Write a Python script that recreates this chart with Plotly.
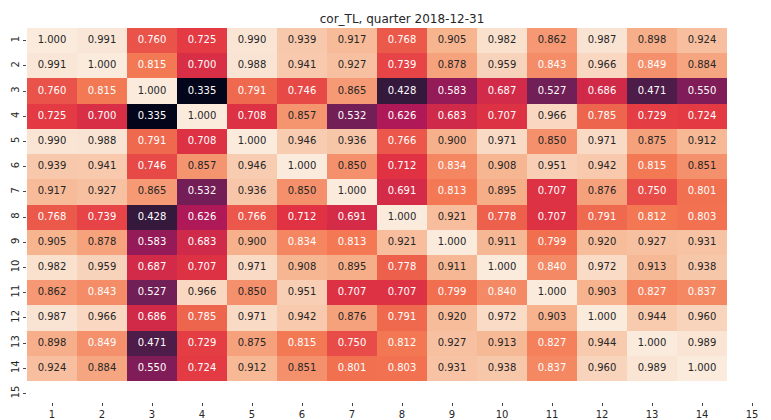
import plotly.graph_objects as go

labels = list(range(1, 15))
tick_vals = list(range(1, 16))
tick_text = [str(i) for i in tick_vals]

corr = [
    [1.000, 0.991, 0.760, 0.725, 0.990, 0.939, 0.917, 0.768, 0.905, 0.982, 0.862, 0.987, 0.898, 0.924],
    [0.991, 1.000, 0.815, 0.700, 0.988, 0.941, 0.927, 0.739, 0.878, 0.959, 0.843, 0.966, 0.849, 0.884],
    [0.760, 0.815, 1.000, 0.335, 0.791, 0.746, 0.865, 0.428, 0.583, 0.687, 0.527, 0.686, 0.471, 0.550],
    [0.725, 0.700, 0.335, 1.000, 0.708, 0.857, 0.532, 0.626, 0.683, 0.707, 0.966, 0.785, 0.729, 0.724],
    [0.990, 0.988, 0.791, 0.708, 1.000, 0.946, 0.936, 0.766, 0.900, 0.971, 0.850, 0.971, 0.875, 0.912],
    [0.939, 0.941, 0.746, 0.857, 0.946, 1.000, 0.850, 0.712, 0.834, 0.908, 0.951, 0.942, 0.815, 0.851],
    [0.917, 0.927, 0.865, 0.532, 0.936, 0.850, 1.000, 0.691, 0.813, 0.895, 0.707, 0.876, 0.750, 0.801],
    [0.768, 0.739, 0.428, 0.626, 0.766, 0.712, 0.691, 1.000, 0.921, 0.778, 0.707, 0.791, 0.812, 0.803],
    [0.905, 0.878, 0.583, 0.683, 0.900, 0.834, 0.813, 0.921, 1.000, 0.911, 0.799, 0.920, 0.927, 0.931],
    [0.982, 0.959, 0.687, 0.707, 0.971, 0.908, 0.895, 0.778, 0.911, 1.000, 0.840, 0.972, 0.913, 0.938],
    [0.862, 0.843, 0.527, 0.966, 0.850, 0.951, 0.707, 0.707, 0.799, 0.840, 1.000, 0.903, 0.827, 0.837],
    [0.987, 0.966, 0.686, 0.785, 0.971, 0.942, 0.876, 0.791, 0.920, 0.972, 0.903, 1.000, 0.944, 0.960],
    [0.898, 0.849, 0.471, 0.729, 0.875, 0.815, 0.750, 0.812, 0.927, 0.913, 0.827, 0.944, 1.000, 0.989],
    [0.924, 0.884, 0.550, 0.724, 0.912, 0.851, 0.801, 0.803, 0.931, 0.938, 0.837, 0.960, 0.989, 1.000],
]

title_text = "cor_TL, quarter 2018-12-31"

rocket = [
    [0.0, "#03051a"],
    [0.143, "#35193e"],
    [0.286, "#701f57"],
    [0.429, "#ad1759"],
    [0.571, "#e13342"],
    [0.714, "#f37651"],
    [0.857, "#f6b48f"],
    [1.0, "#faebdd"],
]

FONT = "DejaVu Sans, sans-serif"

fig = go.Figure()
fig.add_trace(go.Heatmap(
    z=corr, x=labels, y=labels, colorscale=rocket,
    zmin=min(min(r) for r in corr), zmax=max(max(r) for r in corr),
    showscale=False, hoverinfo="skip", xgap=0, ygap=0,
))

tx, ty, tt, tc = [], [], [], []
for i, row in enumerate(corr):
    for j, v in enumerate(row):
        tx.append(labels[j])
        ty.append(labels[i])
        tt.append(f"{v:.3f}")
        tc.append("#ffffff" if v < 0.85 else "#262626")

fig.add_trace(go.Scatter(
    x=tx, y=ty, text=tt, mode="text",
    textfont=dict(color=tc, size=10, family=FONT),
    hoverinfo="skip", showlegend=False,
))

# page body adds an 8px offset; positions below compensate for it
fig.update_layout(
    width=771, height=420,
    margin=dict(l=19, r=0, t=20, b=26, autoexpand=False),
    paper_bgcolor="white", plot_bgcolor="white",
    title=dict(text=title_text, x=394 / 771, xref="container", xanchor="center",
               y=1 - 11 / 420, yref="container", yanchor="middle",
               font=dict(family=FONT, size=12, color="#262626")),
    showlegend=False,
)
fig.update_xaxes(range=[0.5, 15.54], tickvals=tick_vals, ticktext=tick_text,
                 showgrid=False, zeroline=False, showline=False, automargin=False,
                 ticks="outside", ticklen=3, tickcolor="#444", tickwidth=0.8,
                 tickfont=dict(family=FONT, size=10, color="#262626"))
fig.update_yaxes(range=[15.34, 0.5], tickvals=tick_vals, ticktext=tick_text,
                 showgrid=False, zeroline=False, showline=False, automargin=False,
                 ticks="outside", ticklen=3, tickcolor="#444", tickwidth=0.8,
                 tickangle=-90,
                 tickfont=dict(family=FONT, size=10, color="#262626"))

fig.write_html("out.html")
